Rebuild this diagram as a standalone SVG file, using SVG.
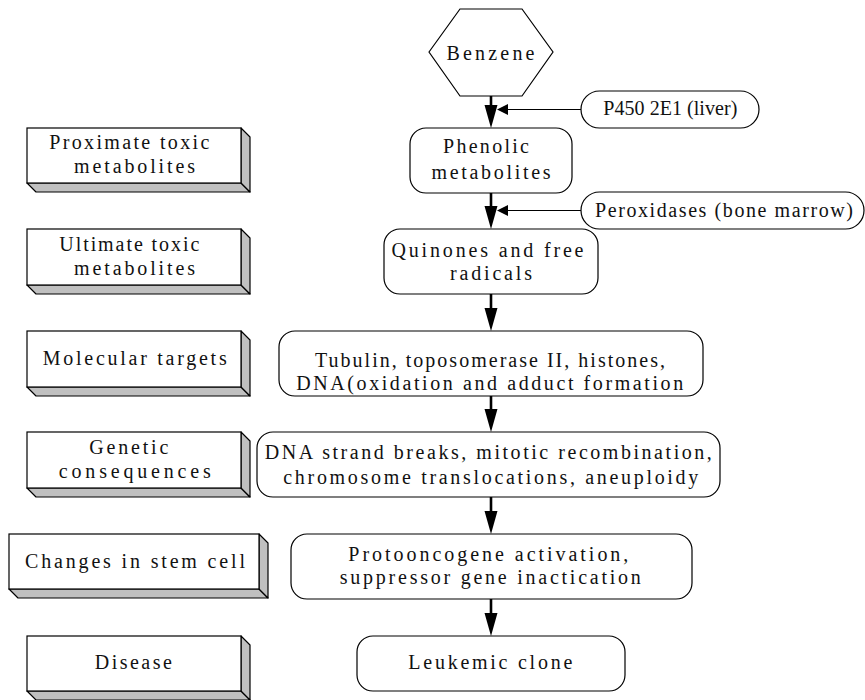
<svg xmlns="http://www.w3.org/2000/svg" width="865" height="700" viewBox="0 0 865 700">
<defs>
<style>
.t{font-family:"Liberation Serif","DejaVu Serif",serif;font-size:20px;fill:#111;text-anchor:middle;}
.box{fill:#fff;stroke:#000;stroke-width:1.2;}
.face{fill:#c0c0c0;stroke:#000;stroke-width:1.2;stroke-linejoin:round;}
.main{stroke:#000;stroke-width:2.6;fill:none;}
.side{stroke:#000;stroke-width:1.2;fill:none;}
</style>
<marker id="ah" markerUnits="userSpaceOnUse" markerWidth="24" markerHeight="14" refX="0" refY="6.5" orient="auto">
<path d="M0,0 L23,6.5 L0,13 z" fill="#000"/>
</marker>
<marker id="sh" markerUnits="userSpaceOnUse" markerWidth="12" markerHeight="12" refX="0" refY="5.5" orient="auto">
<path d="M0,0 L11,5.5 L0,11 z" fill="#000"/>
</marker>
</defs>
<rect width="865" height="700" fill="#fff"/>

<g id="connectors">
<path class="main" d="M491,96 V105" marker-end="url(#ah)"/>
<path class="main" d="M491,193 V206" marker-end="url(#ah)"/>
<path class="main" d="M491,294 V308" marker-end="url(#ah)"/>
<path class="main" d="M491,396 V409" marker-end="url(#ah)"/>
<path class="main" d="M491,497 V511" marker-end="url(#ah)"/>
<path class="main" d="M491,599 V613" marker-end="url(#ah)"/>
<path class="side" d="M581,109.5 H508" marker-end="url(#sh)"/>
<path class="side" d="M581,210.5 H508" marker-end="url(#sh)"/>
</g>

<g id="benzene">
<polygon class="box" points="429,52 460,9 522,9 553,52 522,96 460,96"/>
<text class="t" x="490.5" y="60" textLength="88" lengthAdjust="spacing">Benzene</text>
</g>
<g id="p450">
<rect class="box" x="581" y="91" width="178" height="37" rx="18.5"/>
<text class="t" x="670.3" y="115" textLength="134" lengthAdjust="spacing">P450 2E1 (liver)</text>
</g>
<g id="phenolic">
<rect class="box" x="410" y="128" width="162" height="65" rx="16"/>
<text class="t" x="486" y="153" textLength="86" lengthAdjust="spacing">Phenolic</text>
<text class="t" x="491" y="179" textLength="119" lengthAdjust="spacing">metabolites</text>
</g>
<g id="peroxidases">
<rect class="box" x="581" y="192" width="283" height="37" rx="18.5"/>
<text class="t" x="724" y="217" textLength="258" lengthAdjust="spacing">Peroxidases (bone marrow)</text>
</g>
<g id="quinones">
<rect class="box" x="384" y="229" width="214" height="65" rx="16"/>
<text class="t" x="487.5" y="257" textLength="192" lengthAdjust="spacing">Quinones and free</text>
<text class="t" x="491" y="280" textLength="82" lengthAdjust="spacing">radicals</text>
</g>
<g id="tubulin">
<rect class="box" x="279" y="331" width="424" height="65" rx="16"/>
<text class="t" x="490" y="367" textLength="350" lengthAdjust="spacing">Tubulin, toposomerase II, histones,</text>
<text class="t" x="489.7" y="389.5" textLength="387" lengthAdjust="spacing">DNA(oxidation and adduct formation</text>
</g>
<g id="dna">
<rect class="box" x="257" y="432" width="463" height="65" rx="16"/>
<text class="t" x="488.3" y="459" textLength="447" lengthAdjust="spacing">DNA strand breaks, mitotic recombination,</text>
<text class="t" x="490.8" y="484" textLength="415" lengthAdjust="spacing">chromosome translocations, aneuploidy</text>
</g>
<g id="protooncogene">
<rect class="box" x="291" y="534" width="401" height="65" rx="16"/>
<text class="t" x="488.3" y="561" textLength="280" lengthAdjust="spacing">Protooncogene activation,</text>
<text class="t" x="490.3" y="584" textLength="301" lengthAdjust="spacing">suppressor gene inactication</text>
</g>
<g id="leukemic">
<rect class="box" x="357" y="636" width="268" height="55" rx="16"/>
<text class="t" x="490.3" y="669" textLength="164" lengthAdjust="spacing">Leukemic clone</text>
</g>

<g id="stage-proximate">
<polygon class="face" points="27,183 241,183 250,192 36,192"/>
<polygon class="face" points="241,128 250,137 250,192 241,183"/>
<rect class="box" x="27" y="128" width="214" height="55"/>
<text class="t" x="129.3" y="149" textLength="160" lengthAdjust="spacing">Proximate toxic</text>
<text class="t" x="134.5" y="173" textLength="121" lengthAdjust="spacing">metabolites</text>
</g>
<g id="stage-ultimate">
<polygon class="face" points="27,285 241,285 250,294 36,294"/>
<polygon class="face" points="241,229 250,238 250,294 241,285"/>
<rect class="box" x="27" y="229" width="214" height="56"/>
<text class="t" x="129.3" y="251" textLength="140" lengthAdjust="spacing">Ultimate toxic</text>
<text class="t" x="134.5" y="275" textLength="121" lengthAdjust="spacing">metabolites</text>
</g>
<g id="stage-molecular">
<polygon class="face" points="27,387 241,387 250,396 36,396"/>
<polygon class="face" points="241,331 250,340 250,396 241,387"/>
<rect class="box" x="27" y="331" width="214" height="56"/>
<text class="t" x="134.7" y="365" textLength="184" lengthAdjust="spacing">Molecular targets</text>
</g>
<g id="stage-genetic">
<polygon class="face" points="27,488 241,488 250,497 36,497"/>
<polygon class="face" points="241,432 250,441 250,497 241,488"/>
<rect class="box" x="27" y="432" width="214" height="56"/>
<text class="t" x="128.8" y="454" textLength="79" lengthAdjust="spacing">Genetic</text>
<text class="t" x="134.8" y="478" textLength="152" lengthAdjust="spacing">consequences</text>
</g>
<g id="stage-stemcell">
<polygon class="face" points="9,589 259,589 268,598 18,598"/>
<polygon class="face" points="259,534 268,543 268,598 259,589"/>
<rect class="box" x="9" y="534" width="250" height="55"/>
<text class="t" x="135" y="568" textLength="220" lengthAdjust="spacing">Changes in stem cell</text>
</g>
<g id="stage-disease">
<polygon class="face" points="27,691 241,691 250,700 36,700"/>
<polygon class="face" points="241,636 250,645 250,700 241,691"/>
<rect class="box" x="27" y="636" width="214" height="55"/>
<text class="t" x="133.3" y="669" textLength="77" lengthAdjust="spacing">Disease</text>
</g>
</svg>
